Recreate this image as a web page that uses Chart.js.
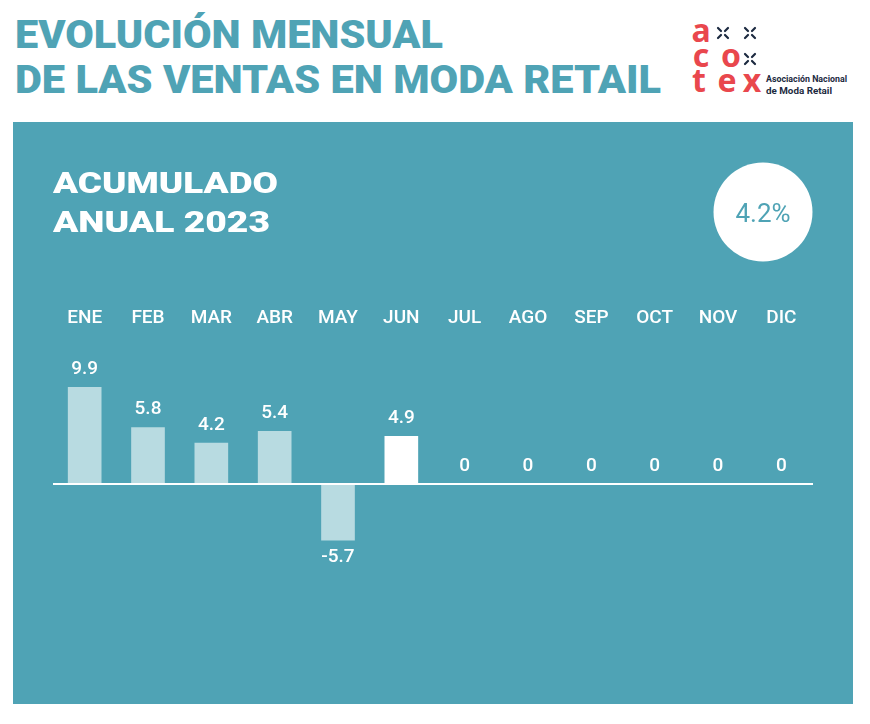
<!DOCTYPE html>
<html lang="es">
<head>
    <meta charset="UTF-8">
    <title>Evolución mensual de las ventas en moda retail</title>
    <script src="https://cdn.jsdelivr.net/npm/chart.js"></script>
    <style>
        body, html {
            margin: 0;
            padding: 0;
            width: 870px;
            height: 724px;
            background: #ffffff;
            font-family: Roboto, Arial, sans-serif;
            overflow: hidden;
        }
        #page {
            position: relative;
            width: 870px;
            height: 724px;
        }
        #deco {
            position: absolute;
            left: 0;
            top: 0;
        }
        #ventasChart {
            position: absolute;
            left: 13px;
            top: 122px;
            background: #4fa3b5;
        }
        #overlay {
            position: absolute;
            left: 0;
            top: 0;
            pointer-events: none;
        }
    </style>
</head>
<body>
<div id="page">
    <!-- header: title + logo -->
    <svg id="deco" width="870" height="122">
        <text x="15" y="48" textLength="428" lengthAdjust="spacingAndGlyphs"
              font-family="Roboto" font-weight="900" font-size="39" fill="#4fa3b5">EVOLUCIÓN MENSUAL</text>
        <text x="15" y="93" textLength="646" lengthAdjust="spacingAndGlyphs"
              font-family="Roboto" font-weight="900" font-size="39" fill="#4fa3b5">DE LAS VENTAS EN MODA RETAIL</text>

        <g font-family="'Noto Sans', sans-serif" font-weight="700" font-size="32" fill="#e9474d" text-anchor="middle">
            <text x="701" y="42">a</text>
            <text x="701" y="67">c</text>
            <text x="731" y="67">o</text>
            <text x="699" y="92">t</text>
            <text x="727" y="92">e</text>
            <text x="752" y="92">x</text>
        </g>
        <g stroke="#1c2a40" stroke-width="2.2" stroke-linecap="round">
            <path d="M718 28 l3 3 M728 28 l-3 3 M718 38 l3 -3 M728 38 l-3 -3"/>
            <path d="M745 28 l3 3 M755 28 l-3 3 M745 38 l3 -3 M755 38 l-3 -3"/>
            <path d="M745 54 l3 3 M755 54 l-3 3 M745 64 l3 -3 M755 64 l-3 -3"/>
        </g>
        <g font-family="Roboto" font-weight="700" font-size="9.5" fill="#1c2a40">
            <text x="766" y="82" textLength="81" lengthAdjust="spacingAndGlyphs">Asociación Nacional</text>
            <text x="766" y="94" textLength="66" lengthAdjust="spacingAndGlyphs">de Moda Retail</text>
        </g>
    </svg>

    <canvas id="ventasChart" width="840" height="582"></canvas>

    <!-- panel heading and yearly total -->
    <svg id="overlay" width="870" height="724">
        <g font-family="Roboto" font-weight="900" font-size="30" fill="#ffffff">
            <text x="53" y="193" textLength="225" lengthAdjust="spacingAndGlyphs">ACUMULADO</text>
            <text x="53" y="232" textLength="217" lengthAdjust="spacingAndGlyphs">ANUAL 2023</text>
        </g>
        <circle cx="763" cy="212" r="49.5" fill="#ffffff"/>
        <text id="totalLabel" x="763" y="221.5" text-anchor="middle"
              font-family="Roboto" font-weight="400" font-size="26" fill="#4fa3b5"></text>
    </svg>
</div>

<script>
    // data (% change vs. same month of previous year)
    const meses = ['ENE', 'FEB', 'MAR', 'ABR', 'MAY', 'JUN', 'JUL', 'AGO', 'SEP', 'OCT', 'NOV', 'DIC'];
    const ventas = [9.9, 5.8, 4.2, 5.4, -5.7, 4.9, 0, 0, 0, 0, 0, 0];
    const mesActual = 'JUN';
    const acumulado = 4.2;

    document.getElementById('totalLabel').textContent = acumulado.toFixed(1) + '%';

    const LIGHT = '#b8dbe1';

    // value labels over / under each bar
    const valueLabels = {
        id: 'valueLabels',
        afterDatasetsDraw(chart) {
            const c = chart.ctx;
            const meta = chart.getDatasetMeta(0);
            c.save();
            c.fillStyle = '#ffffff';
            c.font = '500 19px Roboto';
            c.textAlign = 'center';
            c.textBaseline = 'alphabetic';
            meta.data.forEach((bar, i) => {
                const v = ventas[i];
                const y = v < 0 ? bar.y + 21.8 : bar.y - 13.5;
                c.fillText(String(v), bar.x, y);
            });
            c.restore();
        }
    };

    const ctx = document.getElementById('ventasChart').getContext('2d');
    const ventasChart = new Chart(ctx, {
        type: 'bar',
        data: {
            labels: meses,
            datasets: [{
                data: ventas,
                backgroundColor: meses.map(m => m === mesActual ? '#ffffff' : LIGHT),
                borderWidth: 0,
                barThickness: 33
            }]
        },
        options: {
            responsive: false,
            animation: false,
            devicePixelRatio: 1,
            layout: {
                padding: { left: 40, right: 40, top: 180.5, bottom: 2.5 }
            },
            plugins: {
                legend: { display: false },
                tooltip: { enabled: false }
            },
            scales: {
                x: {
                    position: 'top',
                    grid: { display: false, drawTicks: false },
                    border: { display: false },
                    ticks: {
                        color: '#ffffff',
                        font: { family: 'Roboto', size: 19, weight: '500' },
                        padding: 4,
                        maxRotation: 0,
                        autoSkip: false
                    }
                },
                y: {
                    min: -22.18,
                    max: 15.42,
                    afterBuildTicks: axis => { axis.ticks = [{ value: 0 }]; },
                    ticks: { display: false },
                    grid: {
                        z: 1,
                        drawTicks: false,
                        lineWidth: 2,
                        color: c => c.tick && c.tick.value === 0 ? '#ffffff' : 'rgba(0,0,0,0)'
                    },
                    border: { display: false }
                }
            }
        },
        plugins: [valueLabels]
    });
</script>
</body>
</html>
